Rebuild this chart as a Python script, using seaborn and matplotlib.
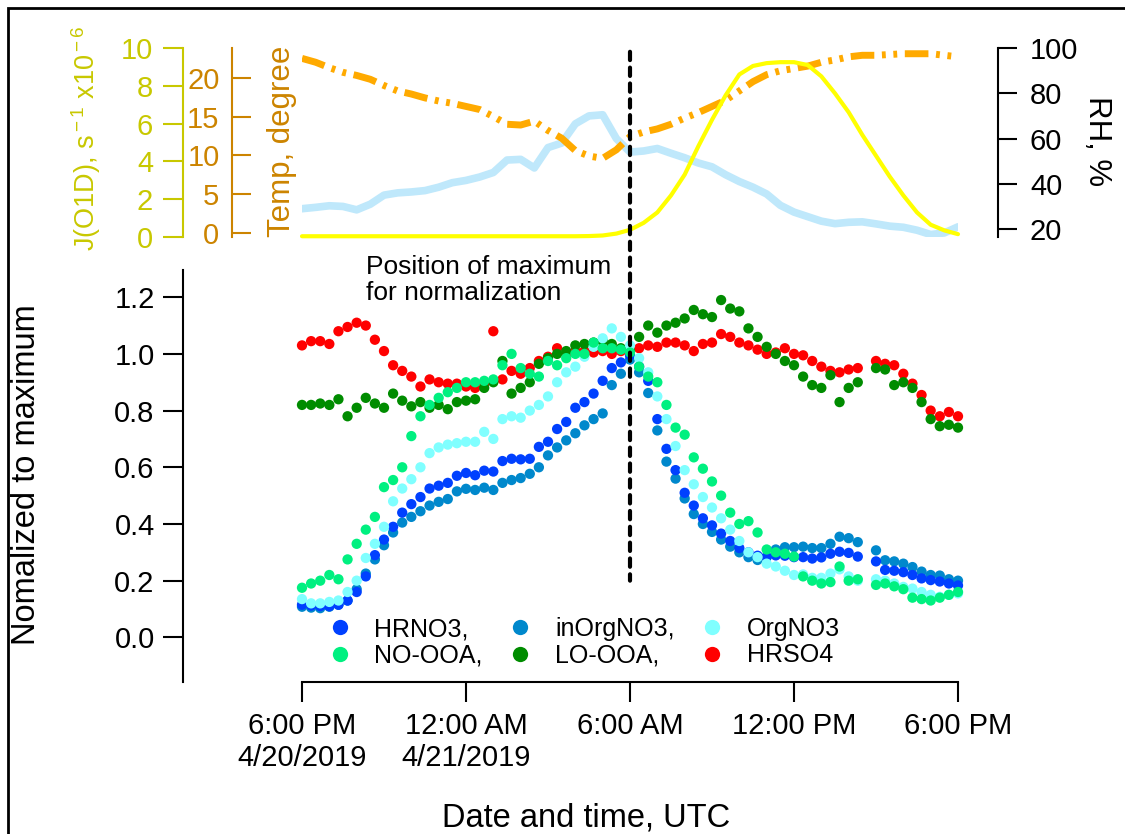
import numpy as np
import pandas as pd
import matplotlib
matplotlib.use('Agg')
import matplotlib.pyplot as plt
import matplotlib.dates as mdates
from matplotlib.lines import Line2D
from matplotlib.patches import ConnectionPatch, Rectangle
import seaborn as sns

sns.set_style('ticks')
plt.rcParams['font.family'] = ['Liberation Sans', 'DejaVu Sans']
plt.rcParams['mathtext.fontset'] = 'custom'
plt.rcParams['mathtext.rm'] = 'Liberation Sans'
plt.rcParams['mathtext.it'] = 'Liberation Sans:italic'
plt.rcParams['mathtext.bf'] = 'Liberation Sans:bold'
for key in ('text.color', 'axes.labelcolor', 'xtick.color', 'ytick.color'):
    plt.rcParams[key] = 'black'

# ====================
#  DATA
# ====================

# meteorology, every 30 min from 4/20/2019 18:00 UTC
met_times = pd.date_range('2019-04-20 18:00', periods=49, freq='30min')

j_o1d = [0.04, 0.04, 0.04, 0.04, 0.04, 0.04, 0.04, 0.04, 0.04, 0.04,
         0.04, 0.04, 0.04, 0.04, 0.04, 0.04, 0.04, 0.04, 0.04, 0.04,
         0.04, 0.05, 0.08, 0.18, 0.38, 0.75, 1.3, 2.2, 3.3, 4.8,
         6.2, 7.5, 8.6, 9.05, 9.2, 9.25, 9.25, 9.1, 8.5, 7.6,
         6.6, 5.4, 4.3, 3.2, 2.2, 1.3, 0.65, 0.35, 0.15]

temp = [22.5, 22.0, 21.3, 20.7, 20.3, 19.8, 19.0, 18.3, 17.9, 17.4,
        17.0, 16.7, 16.3, 15.9, 15.0, 14.0, 13.9, 14.4, 13.2, 12.2,
        10.6, 9.9, 9.6, 10.7, 12.4, 13.0, 13.4, 14.0, 14.8, 15.5,
        16.3, 17.1, 18.3, 19.5, 20.4, 20.9, 21.2, 21.5, 22.0, 22.3,
        22.7, 22.9, 22.9, 23.0, 23.1, 23.1, 23.1, 22.9, 22.7]

rh = [29.0, 29.6, 30.3, 30.0, 28.5, 31.0, 35.0, 36.0, 36.4, 37.0,
      38.5, 40.5, 41.5, 43.0, 45.0, 50.5, 50.8, 47.0, 56.0, 58.0,
      66.5, 70.0, 70.5, 60.0, 54.0, 54.5, 55.6, 53.5, 51.5, 49.2,
      47.5, 44.0, 41.0, 38.5, 35.5, 30.5, 27.5, 25.5, 23.5, 22.4,
      23.0, 23.2, 22.3, 21.3, 20.8, 19.5, 17.6, 18.3, 21.0]

# normalized species, every 20 min
sample_times = pd.date_range('2019-04-20 18:00', periods=73, freq='20min')
nan = np.nan

hrno3 = [0.115, 0.112, 0.11, 0.11, 0.115, 0.13, 0.16, 0.215, 0.29, 0.345,
         0.39, 0.44, 0.47, 0.495, 0.525, 0.535, 0.545, 0.57, 0.58,
         0.572, 0.588, 0.585, 0.622, 0.63, 0.628, 0.63, 0.672, 0.69, 0.735,
         0.76, 0.81, 0.83, 0.86, 0.905, 0.95, 0.97, 0.995,
         0.955, 0.905, 0.77, 0.665, 0.59, 0.51, 0.465, 0.42, 0.395, 0.366,
         0.34, 0.315, 0.3, 0.288, 0.283, 0.289, 0.288, 0.283,
         0.283, 0.278, 0.282, 0.295, 0.302, 0.298, 0.285, nan, 0.268, 0.238,
         0.235, 0.23, 0.22, 0.208, 0.202, 0.197, 0.19, 0.183]

inorgno3 = [0.108, 0.105, 0.103, 0.108, 0.115, 0.13, 0.17, 0.225, 0.275, 0.325,
            0.37, 0.405, 0.425, 0.445, 0.465, 0.478, 0.488, 0.515, 0.524,
            0.52, 0.528, 0.52, 0.545, 0.555, 0.562, 0.577, 0.6, 0.642, 0.67,
            0.695, 0.72, 0.748, 0.77, 0.79, 0.89, 0.93, 0.98,
            0.935, 0.862, 0.73, 0.62, 0.56, 0.49, 0.435, 0.4, 0.372, 0.345,
            0.32, 0.3, 0.283, 0.273, 0.285, 0.31, 0.318, 0.318,
            0.32, 0.315, 0.315, 0.33, 0.355, 0.35, 0.336, nan, 0.307, 0.272,
            0.268, 0.26, 0.248, 0.232, 0.22, 0.218, 0.205, 0.2]

orgno3 = [0.135, 0.12, 0.12, 0.125, 0.13, 0.16, 0.2, 0.28, 0.33, 0.39,
          0.48, 0.525, 0.558, 0.6, 0.65, 0.67, 0.68, 0.685, 0.69,
          0.69, 0.725, 0.7, 0.77, 0.78, 0.775, 0.8, 0.82, 0.85, 0.9,
          0.935, 0.955, 0.99, 1.025, 1.055, 1.09, 1.06, 1.03,
          0.985, 0.935, 0.85, 0.77, 0.675, 0.59, 0.54, 0.495, 0.458, 0.42,
          0.38, 0.34, 0.3, 0.283, 0.26, 0.25, 0.235, 0.22,
          0.222, 0.21, 0.21, 0.225, 0.24, 0.215, 0.2, nan, 0.205, 0.2,
          0.19, 0.178, 0.172, 0.16, 0.15, 0.143, 0.15, 0.155]

no_ooa = [0.175, 0.19, 0.2, 0.22, 0.205, 0.275, 0.33, 0.38, 0.425, 0.53,
          0.555, 0.6, 0.71, 0.78, 0.82, 0.845, 0.865, 0.88, 0.9,
          0.9, 0.905, 0.91, 0.96, 1.0, 0.95, 0.93, 0.92, 0.975, 0.96,
          0.985, 1.0, 1.0, 1.04, 1.02, 1.02, 1.015, 1.005,
          0.955, 0.92, 0.9, 0.82, 0.74, 0.715, 0.635, 0.595, 0.55, 0.5,
          0.44, 0.4, 0.41, 0.37, 0.31, 0.3, 0.295, 0.285,
          0.215, 0.2, 0.19, 0.195, 0.25, 0.2, 0.205, nan, 0.185, 0.19,
          0.18, 0.17, 0.14, 0.135, 0.13, 0.14, 0.15, 0.16]

lo_ooa = [0.82, 0.82, 0.825, 0.82, 0.84, 0.78, 0.81, 0.845, 0.825, 0.81,
          0.86, 0.835, 0.815, 0.83, 0.81, 0.82, 0.805, 0.83, 0.835,
          0.84, 0.88, 0.9, 0.975, 0.86, 0.88, 0.9, 0.965, 0.985, 1.0,
          1.01, 1.03, 1.035, 1.04, 1.045, 1.035, 1.02, 1.01,
          1.06, 1.1, 1.075, 1.1, 1.11, 1.125, 1.155, 1.14, 1.13, 1.19,
          1.16, 1.15, 1.09, 1.06, 1.025, 1.0, 0.975, 0.96,
          0.92, 0.89, 0.88, 0.925, 0.83, 0.88, 0.9, nan, 0.95, 0.945,
          0.89, 0.9, 0.88, 0.83, 0.77, 0.745, 0.75, 0.74]

hrso4 = [1.03, 1.045, 1.045, 1.035, 1.08, 1.095, 1.11, 1.1, 1.05, 1.01,
         0.96, 0.94, 0.92, 0.885, 0.91, 0.9, 0.895, 0.895, 0.885,
         0.88, 0.895, 1.08, 0.91, 0.94, 0.93, 0.95, 0.975, 0.99, 1.02,
         1.0, 1.01, 1.01, 1.005, 1.01, 1.0, 1.01, 1.02,
         1.02, 1.03, 1.025, 1.04, 1.04, 1.03, 1.01, 1.035, 1.04, 1.07,
         1.06, 1.04, 1.03, 1.015, 1.0, 1.005, 1.02, 1.0,
         0.995, 0.975, 0.955, 0.94, 0.935, 0.945, 0.95, nan, 0.975, 0.965,
         0.96, 0.93, 0.895, 0.855, 0.8, 0.78, 0.795, 0.78]

tick_times = ['2019-04-20 18:00', '2019-04-21 00:00', '2019-04-21 06:00',
              '2019-04-21 12:00', '2019-04-21 18:00']
tick_labels = ['6:00 PM\n4/20/2019', '12:00 AM\n4/21/2019', '6:00 AM',
               '12:00 PM', '6:00 PM']
norm_time = '2019-04-21 06:00'

# ====================
#  STYLE
# ====================

palette = {'HRNO3': '#0040ff', 'inOrgNO3': '#0088cc', 'OrgNO3': '#80ffff',
           'NO-OOA': '#00f080', 'LO-OOA': '#008c00', 'HRSO4': '#ff0000'}
J_COLOR = '#c8c800'
TEMP_COLOR = '#cc8400'
W, H = 1125, 834

# ====================
#  FIGURE
# ====================

fig = plt.figure(figsize=(11.25, 8.34), dpi=100)
ax_met = fig.add_axes([302 / W, 1 - 237 / H, 656 / W, 189 / H])
ax_temp = ax_met.twinx()
ax_rh = ax_met.twinx()
ax_norm = fig.add_axes([302 / W, 1 - 682 / H, 656 / W, 412 / H])

ax_rh.set_zorder(1)
ax_temp.set_zorder(2)
ax_met.set_zorder(3)
ax_met.patch.set_visible(False)

sns.lineplot(x=met_times, y=rh, ax=ax_rh, color='#bfe8fb', linewidth=5.5)
sns.lineplot(x=met_times, y=temp, ax=ax_temp, color='#ffaa00', linewidth=5,
             linestyle=(0, (3.4, 1.1, 0.55, 1.1, 0.55, 1.1)))
sns.lineplot(x=met_times, y=j_o1d, ax=ax_met, color='#ffff00', linewidth=3,
             clip_on=False)

norm = pd.DataFrame({'time': sample_times, 'HRSO4': hrso4, 'LO-OOA': lo_ooa,
                     'inOrgNO3': inorgno3, 'HRNO3': hrno3, 'OrgNO3': orgno3,
                     'NO-OOA': no_ooa})
norm = norm.melt('time', var_name='species', value_name='value')
sns.scatterplot(data=norm, x='time', y='value', hue='species', palette=palette,
                s=55, linewidth=0, ax=ax_norm, legend=False, clip_on=False)

x_ticks = mdates.date2num(pd.to_datetime(tick_times))
for ax in (ax_met, ax_norm):
    ax.set_xlim(x_ticks[0], x_ticks[-1])
    ax.set_xlabel('')
    ax.set_ylabel('')

# top panel axes
ax_met.set_ylim(0, 10)
ax_temp.set_ylim(-0.55, 23.84)
ax_rh.set_ylim(16.5, 100)
for ax in (ax_met, ax_temp, ax_rh):
    for side in ('top', 'bottom', 'left', 'right'):
        ax.spines[side].set_visible(False)
    ax.set_ylabel('')
    ax.tick_params(axis='x', bottom=False, labelbottom=False)

ax_met.spines['left'].set_visible(True)
ax_met.spines['left'].set_position(('outward', 85.7))
ax_met.spines['left'].set_color(J_COLOR)
ax_met.spines['left'].set_linewidth(1.5)
ax_met.set_yticks(np.arange(0, 11, 2))
ax_met.tick_params(axis='y', direction='out', length=14.4, width=1.5,
                   color=J_COLOR, labelcolor=J_COLOR, labelsize=21, pad=7)

ax_temp.yaxis.set_ticks_position('left')
ax_temp.yaxis.set_label_position('left')
ax_temp.spines['left'].set_visible(True)
ax_temp.spines['left'].set_position(('outward', 50.4))
ax_temp.spines['left'].set_color(TEMP_COLOR)
ax_temp.spines['left'].set_linewidth(1.5)
ax_temp.set_yticks(np.arange(0, 21, 5))
ax_temp.tick_params(axis='y', direction='in', length=14, width=1.5,
                    color=TEMP_COLOR, labelcolor=TEMP_COLOR, labelsize=21,
                    pad=9, left=True, right=False, labelleft=True,
                    labelright=False)

ax_rh.spines['right'].set_visible(True)
ax_rh.spines['right'].set_position(('outward', 28.8))
ax_rh.spines['right'].set_linewidth(1.5)
ax_rh.spines['right'].set_color('black')
ax_rh.set_yticks(np.arange(20, 101, 20))
ax_rh.tick_params(axis='y', direction='out', length=14, width=1.5,
                  color='black', labelcolor='black', labelsize=21, pad=9)

# bottom panel axes
ax_norm.set_ylim(-0.1575, 1.296)
ax_norm.spines['top'].set_visible(False)
ax_norm.spines['right'].set_visible(False)
ax_norm.spines['left'].set_position(('outward', 85.7))
for side in ('left', 'bottom'):
    ax_norm.spines[side].set_linewidth(1.5)
    ax_norm.spines[side].set_color('black')
ax_norm.set_yticks(np.arange(0, 1.21, 0.2))
ax_norm.set_yticklabels([f'{v:.1f}' for v in np.arange(0, 1.21, 0.2)])
ax_norm.set_xticks(x_ticks)
ax_norm.set_xticklabels(tick_labels)
ax_norm.tick_params(direction='out', length=14.4, width=1.5, color='black',
                    labelcolor='black', labelsize=21)
ax_norm.tick_params(axis='y', pad=6)
ax_norm.tick_params(axis='x', pad=7)

# vertical line at the normalization time
x_norm = mdates.date2num(pd.Timestamp(norm_time))
fig.add_artist(ConnectionPatch(xyA=(x_norm, 0.98), coordsA=ax_met.get_xaxis_transform(),
                               xyB=(x_norm, 0.2), coordsB=ax_norm.transData,
                               color='black', linewidth=3,
                               linestyle=(0, (2, 1.8)), zorder=5))

# labels
fig.text(27 / W, 1 - 475 / H, 'Nomalized to maximum', rotation=90,
         ha='center', va='center', fontsize=23.5)
fig.text(586 / W, 1 - 818 / H, 'Date and time, UTC', ha='center',
         va='center', fontsize=23.5)
fig.text(86 / W, 1 - 138 / H, r'J(O1D), s$^{\rm -1}$ x10$^{\rm -6}$',
         rotation=90, ha='center', va='center', fontsize=19.5, color=J_COLOR)
fig.text(282 / W, 1 - 141 / H, 'Temp, degree', rotation=90, ha='center',
         va='center', fontsize=22.5, color=TEMP_COLOR)
fig.text(1097 / W, 1 - 141 / H, 'RH, %', rotation=270, ha='center',
         va='center', fontsize=22.5)
fig.text(366 / W, 1 - 255 / H, 'Position of maximum\nfor normalization',
         ha='left', va='top', fontsize=19, linespacing=1.1)

# legend
legend_order = ['HRNO3', 'NO-OOA', 'inOrgNO3', 'LO-OOA', 'OrgNO3', 'HRSO4']
legend_text = {'HRNO3': 'HRNO3,', 'inOrgNO3': 'inOrgNO3,', 'OrgNO3': 'OrgNO3',
               'NO-OOA': 'NO-OOA,', 'LO-OOA': 'LO-OOA,', 'HRSO4': 'HRSO4'}
handles = [Line2D([], [], linestyle='none', marker='o', markersize=11,
                  markerfacecolor=palette[k], markeredgewidth=0)
           for k in legend_order]
fig.legend(handles, [legend_text[k] for k in legend_order], loc='upper left',
           bbox_to_anchor=(327 / W, 1 - 617 / H), ncol=3, frameon=False,
           fontsize=18, handlelength=1.0, handletextpad=0.9,
           columnspacing=1.0, labelspacing=0.1, borderpad=0,
           borderaxespad=0)

# outer frame
fig.add_artist(Rectangle((8 / W, -0.05), 1.2, 1 - 8 / H + 0.05,
                         transform=fig.transFigure, fill=False,
                         linewidth=2, edgecolor='black'))

fig.savefig('out.png', dpi=100)
